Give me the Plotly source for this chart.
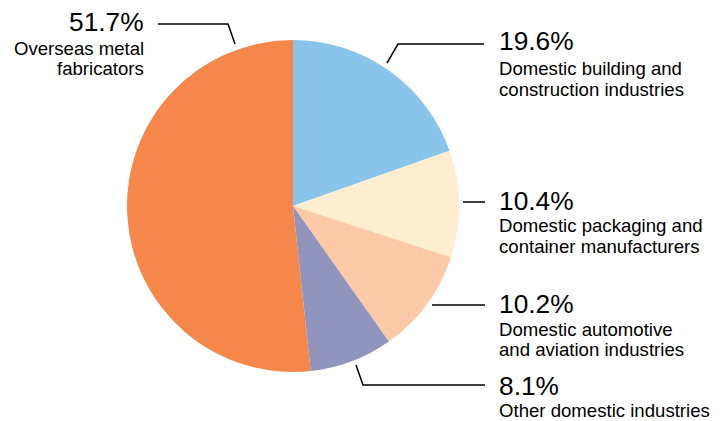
import plotly.graph_objects as go

# ---- data ----
categories = [
    "Domestic building and<br>construction industries",
    "Domestic packaging and<br>container manufacturers",
    "Domestic automotive<br>and aviation industries",
    "Other domestic industries",
    "Overseas metal<br>fabricators",
]
values = [19.6, 10.4, 10.2, 8.1, 51.7]
pct_labels = ["19.6%", "10.4%", "10.2%", "8.1%", "51.7%"]
colors = ["#89C5EB", "#FDEECF", "#FCCAA9", "#9195BE", "#F5874A"]

PAGE_W, PAGE_H = 723, 421
OFF = 8  # default body margin of the html page
W, H = PAGE_W - OFF, PAGE_H - OFF
FONT = "Liberation Sans, Arial, sans-serif"

def px(x):
    return (x - OFF) / W

def py(y):
    return 1 - (y - OFF) / H

# pie geometry (page pixels)
cx, cy, R = 293, 206, 166

fig = go.Figure(go.Pie(
    labels=[c.replace("<br>", " ") for c in categories],
    values=values,
    marker=dict(colors=colors, line=dict(width=0)),
    sort=False,
    direction="clockwise",
    rotation=0,
    textinfo="none",
    hoverinfo="label+percent",
    domain=dict(x=[px(cx - R), px(cx + R)], y=[py(cy + R), py(cy - R)]),
    showlegend=False,
))

# leader lines (page-pixel polylines) and label anchors, per slice
leaders = [
    [(387, 63), (398, 44), (484, 44)],
    [(463, 202), (485, 202)],
    [(432, 305), (485, 305)],
    [(356, 365), (363, 385), (485, 385)],
    [(235, 44), (228, 24), (158, 24)],
]
label_pos = [  # (x, pct center y, first desc line center y, side)
    (497, 41, 69, "left"),
    (497, 201, 226, "left"),
    (497, 304, 329, "left"),
    (497, 386, 410, "left"),
    (146, 22, 48, "right"),
]
LINE_GAP = 20.5

shapes = []
for pts in leaders:
    path = "M " + " L ".join(f"{px(x)},{py(y)}" for x, y in pts)
    shapes.append(dict(type="path", path=path, xref="paper", yref="paper",
                       line=dict(color="black", width=1.5)))

annotations = []
for cat, pct, (x, yp, yd, side) in zip(categories, pct_labels, label_pos):
    annotations.append(dict(
        text=pct, x=px(x), y=py(yp), xref="paper", yref="paper",
        xanchor=side, yanchor="middle", showarrow=False,
        font=dict(family=FONT, size=26.3, color="black"),
    ))
    for i, line in enumerate(cat.split("<br>")):
        annotations.append(dict(
            text=line, x=px(x), y=py(yd + i * LINE_GAP), xref="paper", yref="paper",
            xanchor=side, yanchor="middle", showarrow=False,
            font=dict(family=FONT, size=18.6, color="black"),
        ))

fig.update_layout(
    width=W, height=H,
    margin=dict(l=0, r=0, t=0, b=0),
    paper_bgcolor="white",
    plot_bgcolor="white",
    shapes=shapes,
    annotations=annotations,
)

fig.write_html("out.html")
